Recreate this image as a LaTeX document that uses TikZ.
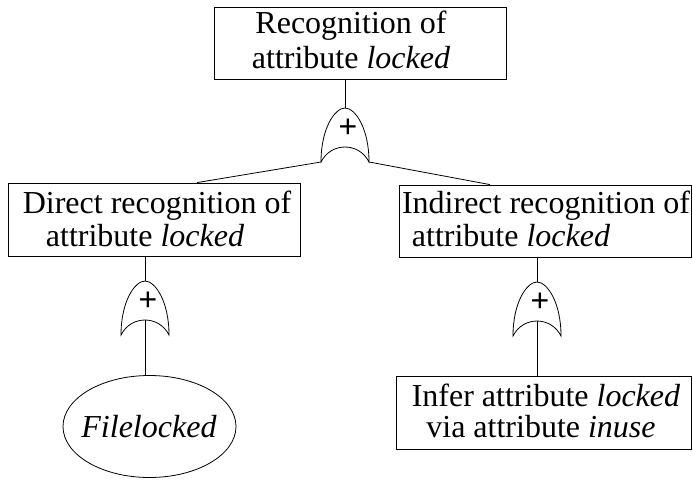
\documentclass[tikz,border=0pt]{standalone}
\usepackage{fontspec}
\setmainfont{Liberation Serif}
\newfontfamily\plusfont{Liberation Sans}
\usetikzlibrary{shapes.geometric}
\tikzset{
  txt/.style={anchor=base, inner sep=0pt, font=\fontsize{32}{34}\selectfont},
  boxnode/.style={draw, line width=0.8pt, rectangle, inner sep=0pt},
  conn/.style={line width=0.8pt},
  orgate/.pic={
    \draw[line width=0.8pt] (-24,54) .. controls (-24,20) and (-10,0) .. (0,0)
      .. controls (10,0) and (24,20) .. (24,54)
      .. controls (14,34) and (-14,34) .. cycle;
    \coordinate (-top) at (0,0);
    \coordinate (-l) at (-24,54);
    \coordinate (-r) at (24,54);
    \coordinate (-in) at (0,39);
    \node[inner sep=0pt, font=\plusfont\fontsize{32}{32}\selectfont] (-plus) at (3,20) {+};
  }
}
\begin{document}
\begin{tikzpicture}[x=1pt,y=-1pt]
\useasboundingbox (0,0) rectangle (693,479);
% boxes
\node[boxnode, minimum width=292pt, minimum height=72pt] (topbox) at (360,43) {};
\node[boxnode, minimum width=292pt, minimum height=73pt] (leftbox) at (154,219.5) {};
\node[boxnode, minimum width=292pt, minimum height=72pt] (rightbox) at (545.5,221) {};
\node[boxnode, minimum width=295pt, minimum height=73pt] (infbox) at (544,412.5) {};
\node[draw, line width=0.8pt, ellipse, minimum width=173pt, minimum height=102pt, inner sep=0pt] (fileell) at (149.5,426.5) {};
% texts
\node[txt] (t1a) at (351,33) {Recognition of};
\node[txt] (t1b) at (351,68) {attribute \textit{locked}};
\node[txt] (t2a) at (157,213) {Direct recognition of};
\node[txt] (t2b) at (145,246) {attribute \textit{locked}};
\node[txt] (t3a) at (546,213) {Indirect recognition of};
\node[txt] (t3b) at (511,246) {attribute \textit{locked}};
\node[txt] (t4a) at (546,406) {Infer attribute \textit{locked}};
\node[txt] (t4b) at (541,437) {via attribute \textit{inuse}};
\node[txt] (t5) at (149,437) {\textit{Filelocked}};
% gates
\pic (g1) at (345,108) {orgate};
\pic (g2) at (145,281) {orgate};
\pic (g3) at (537,282) {orgate};
% connectors
\draw[conn] (g1-top) -- (g1-top |- topbox.south);
\draw[conn] (g1-l) -- ([xshift=43pt]leftbox.north);
\draw[conn] (g1-r) -- ([xshift=-55.5pt]rightbox.north);
\draw[conn] (g2-top) -- (g2-top |- leftbox.south);
\draw[conn] (g2-in) -- (g2-in |- fileell.north);
\draw[conn] (g3-top) -- (g3-top |- rightbox.south);
\draw[conn] (g3-in) -- (g3-in |- infbox.north);
\end{tikzpicture}
\end{document}
